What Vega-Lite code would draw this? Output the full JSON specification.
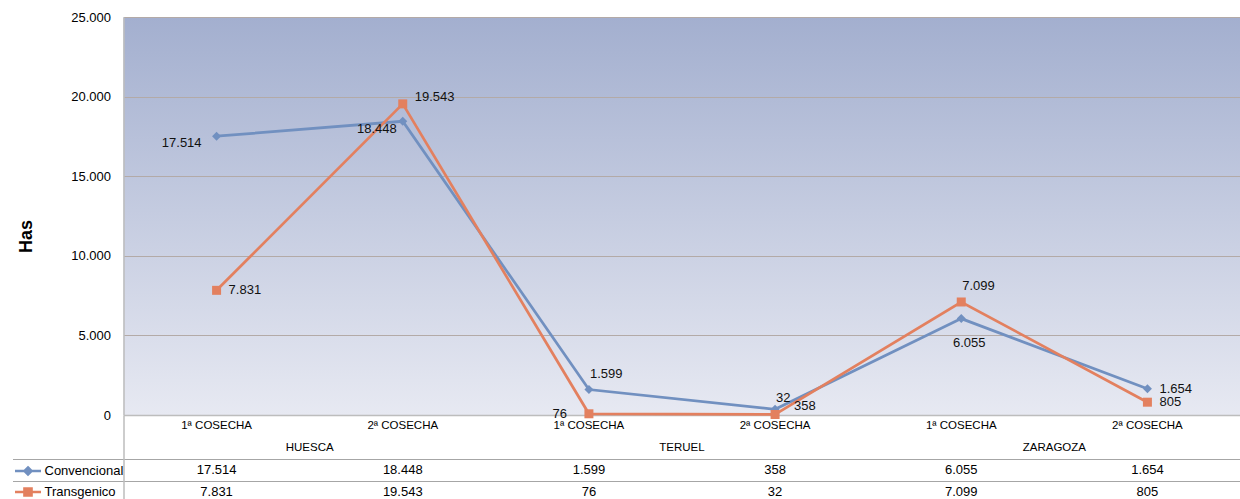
{
  "$schema": "https://vega.github.io/schema/vega-lite/v6.json",
  "padding": {"left": 11.5, "top": 11, "right": 0, "bottom": 0},
  "background": "white",
  "config": {
    "locale": {"number": {"decimal": ",", "thousands": ".", "grouping": [3], "currency": ["", " €"]}},
    "font": "Liberation Sans",
    "view": {"stroke": null},
    "axis": {"labelFont": "Liberation Sans", "titleFont": "Liberation Sans"},
    "legend": {
      "orient": "left",
      "offset": -112,
      "padding": 0,
      "symbolSize": 169,
      "symbolStrokeWidth": 2.5,
      "symbolOpacity": 1,
      "symbolOffset": 6.5,
      "labelOffset": 8.5,
      "labelFont": "Liberation Sans",
      "labelFontSize": 13,
      "labelColor": "#000000",
      "labelLimit": 200,
      "rowPadding": 3,
      "titleFontSize": 13,
      "titlePadding": 35,
      "titleOpacity": 0
    }
  },
  "datasets": {
    "vals": [
      {"provincia": "HUESCA", "cosecha": "1ª COSECHA", "serie": "Convencional", "has": 17514},
      {"provincia": "HUESCA", "cosecha": "2ª COSECHA", "serie": "Convencional", "has": 18448},
      {"provincia": "TERUEL", "cosecha": "1ª COSECHA", "serie": "Convencional", "has": 1599},
      {"provincia": "TERUEL", "cosecha": "2ª COSECHA", "serie": "Convencional", "has": 358},
      {"provincia": "ZARAGOZA", "cosecha": "1ª COSECHA", "serie": "Convencional", "has": 6055},
      {"provincia": "ZARAGOZA", "cosecha": "2ª COSECHA", "serie": "Convencional", "has": 1654},
      {"provincia": "HUESCA", "cosecha": "1ª COSECHA", "serie": "Transgenico", "has": 7831},
      {"provincia": "HUESCA", "cosecha": "2ª COSECHA", "serie": "Transgenico", "has": 19543},
      {"provincia": "TERUEL", "cosecha": "1ª COSECHA", "serie": "Transgenico", "has": 76},
      {"provincia": "TERUEL", "cosecha": "2ª COSECHA", "serie": "Transgenico", "has": 32},
      {"provincia": "ZARAGOZA", "cosecha": "1ª COSECHA", "serie": "Transgenico", "has": 7099},
      {"provincia": "ZARAGOZA", "cosecha": "2ª COSECHA", "serie": "Transgenico", "has": 805}
    ]
  },
  "data": {"name": "vals"},
  "transform": [
    {"calculate": "datum.provincia + '|' + datum.cosecha", "as": "key"},
    {"calculate": "datum.serie + '|' + datum.provincia + '|' + datum.cosecha", "as": "lid"}
  ],
  "spacing": 0,
  "bounds": "flush",
  "resolve": {
    "scale": {"shape": "independent", "color": "independent", "fill": "independent", "stroke": "independent"},
    "legend": {"shape": "independent", "color": "independent", "fill": "independent", "stroke": "independent"}
  },
  "vconcat": [
    {
      "width": 1117,
      "height": 398,
      "view": {
        "stroke": null,
        "fill": {
          "gradient": "linear", "x1": 0, "y1": 0, "x2": 0, "y2": 1,
          "stops": [{"offset": 0, "color": "#a3afcf"}, {"offset": 1, "color": "#e7e9f2"}]
        }
      },
      "encoding": {
        "x": {
          "field": "key", "type": "nominal",
          "scale": {"type": "band", "paddingInner": 0, "paddingOuter": 0},
          "axis": {"labels": false, "ticks": false, "title": null, "domainColor": "#bdbdbd", "domainWidth": 1.5}
        },
        "y": {
          "field": "has", "type": "quantitative",
          "scale": {"domain": [0, 25000], "nice": false},
          "axis": {
            "values": [0, 5000, 10000, 15000, 20000, 25000],
            "format": ",d",
            "grid": true, "gridColor": "#b3aaa7", "gridWidth": 1,
            "ticks": false,
            "domain": true, "domainColor": "#bdbdbd", "domainWidth": 1.5,
            "labelFontSize": 13, "labelColor": "#000000", "labelPadding": 13,
            "title": "Has", "titleFontSize": 18, "titleFontWeight": "bold", "titleColor": "#000000",
            "titlePadding": 35, "titleY": 219
          }
        }
      },
      "layer": [
        {
          "mark": {"type": "line", "strokeWidth": 2.75},
          "encoding": {
            "color": {"field": "serie", "type": "nominal", "scale": {"domain": ["Convencional", "Transgenico"], "range": ["#7190c0", "#e3805f"]}, "legend": null}
          }
        },
        {
          "mark": {"type": "point", "filled": true, "opacity": 1, "size": 81},
          "encoding": {
            "color": {"field": "serie", "type": "nominal", "scale": {"domain": ["Convencional", "Transgenico"], "range": ["#7190c0", "#e3805f"]}, "legend": null},
            "shape": {"field": "serie", "type": "nominal", "scale": {"domain": ["Convencional", "Transgenico"], "range": ["diamond", "square"]}, "legend": null}
          }
        },
        {
          "transform": [{"filter": {"field": "lid", "oneOf": ["Transgenico|HUESCA|1ª COSECHA", "Convencional|ZARAGOZA|2ª COSECHA", "Transgenico|ZARAGOZA|2ª COSECHA"]}}],
          "mark": {"type": "text", "align": "left", "baseline": "middle", "dx": 12, "dy": 0, "fontSize": 13, "color": "#111111"},
          "encoding": {"text": {"field": "has", "type": "quantitative", "format": ",d"}}
        },
        {
          "transform": [{"filter": {"field": "lid", "oneOf": ["Transgenico|HUESCA|2ª COSECHA"]}}],
          "mark": {"type": "text", "align": "left", "baseline": "middle", "dx": 12, "dy": -7, "fontSize": 13, "color": "#111111"},
          "encoding": {"text": {"field": "has", "type": "quantitative", "format": ",d"}}
        },
        {
          "transform": [{"filter": {"field": "lid", "oneOf": ["Convencional|TERUEL|2ª COSECHA"]}}],
          "mark": {"type": "text", "align": "left", "baseline": "middle", "dx": 19, "dy": -3, "fontSize": 13, "color": "#111111"},
          "encoding": {"text": {"field": "has", "type": "quantitative", "format": ",d"}}
        },
        {
          "transform": [{"filter": {"field": "lid", "oneOf": ["Convencional|TERUEL|1ª COSECHA", "Transgenico|ZARAGOZA|1ª COSECHA", "Transgenico|TERUEL|2ª COSECHA"]}}],
          "mark": {"type": "text", "align": "left", "baseline": "middle", "dx": 1, "dy": -16, "fontSize": 13, "color": "#111111"},
          "encoding": {"text": {"field": "has", "type": "quantitative", "format": ",d"}}
        },
        {
          "transform": [{"filter": {"field": "lid", "oneOf": ["Convencional|HUESCA|1ª COSECHA"]}}],
          "mark": {"type": "text", "align": "right", "baseline": "middle", "dx": -15, "dy": 7, "fontSize": 13, "color": "#111111"},
          "encoding": {"text": {"field": "has", "type": "quantitative", "format": ",d"}}
        },
        {
          "transform": [{"filter": {"field": "lid", "oneOf": ["Convencional|HUESCA|2ª COSECHA"]}}],
          "mark": {"type": "text", "align": "right", "baseline": "middle", "dx": -6, "dy": 8, "fontSize": 13, "color": "#111111"},
          "encoding": {"text": {"field": "has", "type": "quantitative", "format": ",d"}}
        },
        {
          "transform": [{"filter": {"field": "lid", "oneOf": ["Transgenico|TERUEL|1ª COSECHA"]}}],
          "mark": {"type": "text", "align": "right", "baseline": "middle", "dx": -22, "dy": 0, "fontSize": 13, "color": "#111111"},
          "encoding": {"text": {"field": "has", "type": "quantitative", "format": ",d"}}
        },
        {
          "transform": [{"filter": {"field": "lid", "oneOf": ["Convencional|ZARAGOZA|1ª COSECHA"]}}],
          "mark": {"type": "text", "align": "center", "baseline": "middle", "dx": 8, "dy": 24, "fontSize": 13, "color": "#111111"},
          "encoding": {"text": {"field": "has", "type": "quantitative", "format": ",d"}}
        }
      ]
    },
    {
      "width": 1117,
      "height": 88,
      "encoding": {
        "x": {
          "field": "key", "type": "nominal",
          "scale": {"type": "band", "paddingInner": 0, "paddingOuter": 0},
          "axis": null
        }
      },
      "layer": [
        {
          "mark": {"type": "text", "fontSize": 13, "color": "#000000"},
          "encoding": {
            "y": {
              "field": "serie", "type": "nominal",
              "scale": {"type": "band", "domain": ["cat", "prov", "Convencional", "Transgenico"], "paddingInner": 0, "paddingOuter": 0},
              "axis": {
                "title": null, "labels": false,
                "values": ["Convencional", "Transgenico"],
                "tickBand": "extent", "tickExtra": false,
                "tickSize": 111, "tickColor": "#a6a6a6", "tickWidth": 1,
                "grid": true, "gridColor": "#a6a6a6", "gridWidth": 1,
                "domain": true, "domainColor": "#bdbdbd", "domainWidth": 1.5
              }
            },
            "text": {"field": "has", "type": "quantitative", "format": ",d"}
          }
        },
        {
          "transform": [{"filter": "datum.serie == 'Convencional'"}],
          "mark": {"type": "text", "fontSize": 11.5, "color": "#000000"},
          "encoding": {
            "y": {"datum": "cat", "type": "nominal"},
            "text": {"field": "cosecha", "type": "nominal"}
          }
        },
        {
          "transform": [{"filter": "datum.serie == 'Convencional' && datum.cosecha == '2ª COSECHA'"}],
          "mark": {"type": "text", "fontSize": 11.5, "color": "#000000"},
          "encoding": {
            "x": {"field": "key", "type": "nominal", "bandPosition": 0},
            "y": {"datum": "prov", "type": "nominal"},
            "text": {"field": "provincia", "type": "nominal"}
          }
        },
        {
          "mark": {"type": "point", "filled": true, "opacity": 0},
          "encoding": {
            "y": {"field": "serie", "type": "nominal"},
            "fill": {"field": "serie", "type": "nominal", "scale": {"domain": ["Convencional", "Transgenico"], "range": ["#7190c0", "#e3805f"]}, "legend": {"title": "Serie"}},
            "stroke": {"field": "serie", "type": "nominal", "scale": {"domain": ["Convencional", "Transgenico"], "range": ["#7190c0", "#e3805f"]}, "legend": {"title": "Serie"}},
            "shape": {"field": "serie", "type": "nominal", "scale": {"domain": ["Convencional", "Transgenico"], "range": ["M-2,0L2,0M0,-0.55L0.55,0L0,0.55L-0.55,0Z", "M-2,0L2,0M-0.55,-0.55L0.55,-0.55L0.55,0.55L-0.55,0.55Z"]}, "legend": {"title": "Serie"}}
          }
        }
      ]
    }
  ]
}
